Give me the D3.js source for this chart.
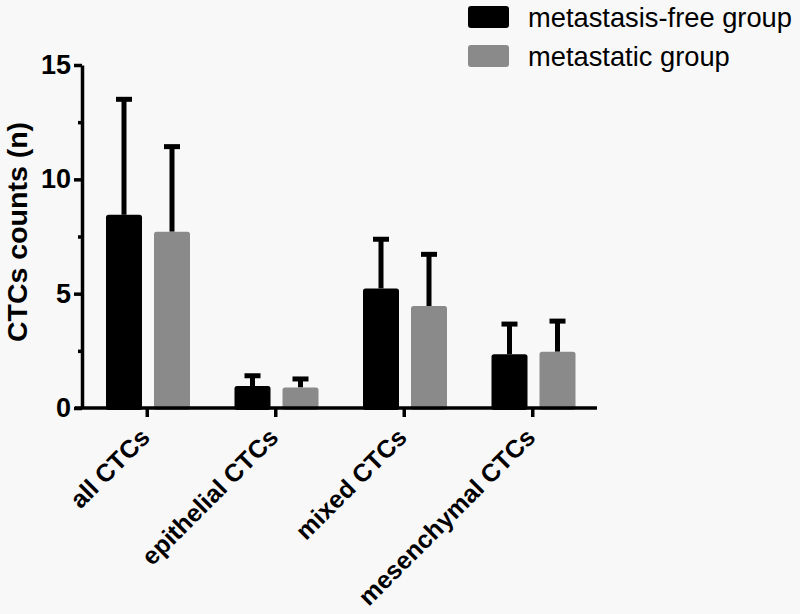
<!DOCTYPE html>
<html><head><meta charset="utf-8">
<script src="https://cdn.jsdelivr.net/npm/d3@7"></script>
<style>
html,body{margin:0;padding:0;background:#f8f8f8;}
svg{display:block;font-family:"Liberation Sans",Arial,sans-serif;}
</style></head>
<body>
<script>
const categories = ["all CTCs", "epithelial CTCs", "mixed CTCs", "mesenchymal CTCs"];
const seriesNames = ["metastasis-free group", "metastatic group"];
const freeMean = [8.45, 0.96, 5.23, 2.35];
const freeSD = [5.05, 0.45, 2.15, 1.32];
const metMean = [7.71, 0.90, 4.46, 2.46];
const metSD = [3.72, 0.37, 2.26, 1.34];
const yTicks = [0, 5, 10, 15];
const yMinorTicks = [2.5, 7.5, 12.5];
const colors = ["#000000", "#8a8a8a"];

const W = 800, H = 614;
const svg = d3.select("body").append("svg").attr("width", W).attr("height", H);
svg.append("rect").attr("width", W).attr("height", H).attr("fill", "#f8f8f8");

const x0 = d3.scaleBand().domain(categories).range([83, 597]).padding(0);
const x1 = d3.scaleBand().domain(seriesNames).range([23, 107]).paddingInner(0.25);
const y = d3.scaleLinear().domain([0, 15]).range([408, 65]);

const series = [
  {name: seriesNames[0], mean: freeMean, sd: freeSD, color: colors[0]},
  {name: seriesNames[1], mean: metMean, sd: metSD, color: colors[1]}
];

// bars
series.forEach(s => {
  const g = svg.append("g");
  categories.forEach((c, i) => {
    const bx = x0(c) + x1(s.name);
    const bw = x1.bandwidth();
    const cx = bx + bw / 2;
    g.append("line").attr("x1", cx).attr("x2", cx)
      .attr("y1", y(s.mean[i])).attr("y2", y(s.mean[i] + s.sd[i]))
      .attr("stroke", "#000").attr("stroke-width", 5);
    g.append("line").attr("x1", cx - 8).attr("x2", cx + 8)
      .attr("y1", y(s.mean[i] + s.sd[i])).attr("y2", y(s.mean[i] + s.sd[i]))
      .attr("stroke", "#000").attr("stroke-width", 5);
    g.append("rect").attr("x", bx).attr("width", bw)
      .attr("y", y(s.mean[i])).attr("height", y(0) - y(s.mean[i]) + 2)
      .attr("rx", 2.5).attr("fill", s.color);
  });
});

// y axis
const yAxis = svg.append("g").attr("transform", "translate(82,0)")
  .call(d3.axisLeft(y).tickValues(yTicks).tickSize(8).tickSizeOuter(0).tickPadding(3));
yAxis.select(".domain").attr("stroke-width", 3.5).attr("stroke", "#000");
yAxis.selectAll(".tick line").attr("stroke-width", 3.5).attr("stroke", "#000");
yAxis.selectAll(".tick text").attr("font-size", 27).attr("font-weight", "bold")
  .attr("fill", "#000").attr("font-family", "Liberation Sans, Arial, sans-serif");
const yMinor = svg.append("g").attr("transform", "translate(82,0)")
  .call(d3.axisLeft(y).tickValues(yMinorTicks).tickSize(4).tickFormat(""));
yMinor.select(".domain").remove();
yMinor.selectAll(".tick line").attr("stroke-width", 3.5).attr("stroke", "#000");

// x axis
const xAxis = svg.append("g").attr("transform", "translate(0,408)")
  .call(d3.axisBottom(x0).tickSize(9).tickSizeOuter(0).tickFormat(""));
xAxis.select(".domain").attr("stroke-width", 3.5).attr("stroke", "#000")
  .attr("d", "M75,0H597");
xAxis.selectAll(".tick line").attr("stroke-width", 3.5).attr("stroke", "#000");

svg.append("g").selectAll("text").data(categories).join("text")
  .attr("transform", d => `translate(${x0(d) + x0.bandwidth() / 2 + 4},439) rotate(-45)`)
  .attr("text-anchor", "end").attr("font-size", 25).attr("font-weight", "bold")
  .attr("fill", "#000").text(d => d);

// y title
svg.append("text").attr("transform", "translate(27,232) rotate(-90)")
  .attr("text-anchor", "middle").attr("font-size", 28.5).attr("font-weight", "bold")
  .attr("fill", "#000").text("CTCs counts (n)");

// legend
const leg = svg.append("g");
series.forEach((s, i) => {
  const ly = 17 + i * 39;
  leg.append("rect").attr("x", 468).attr("y", ly - 11).attr("width", 41).attr("height", 22)
    .attr("rx", 3).attr("fill", s.color);
  leg.append("text").attr("x", 528).attr("y", ly).attr("dy", "0.35em")
    .attr("font-size", 27.3).attr("fill", "#000").text(s.name);
});
</script>
</body></html>
